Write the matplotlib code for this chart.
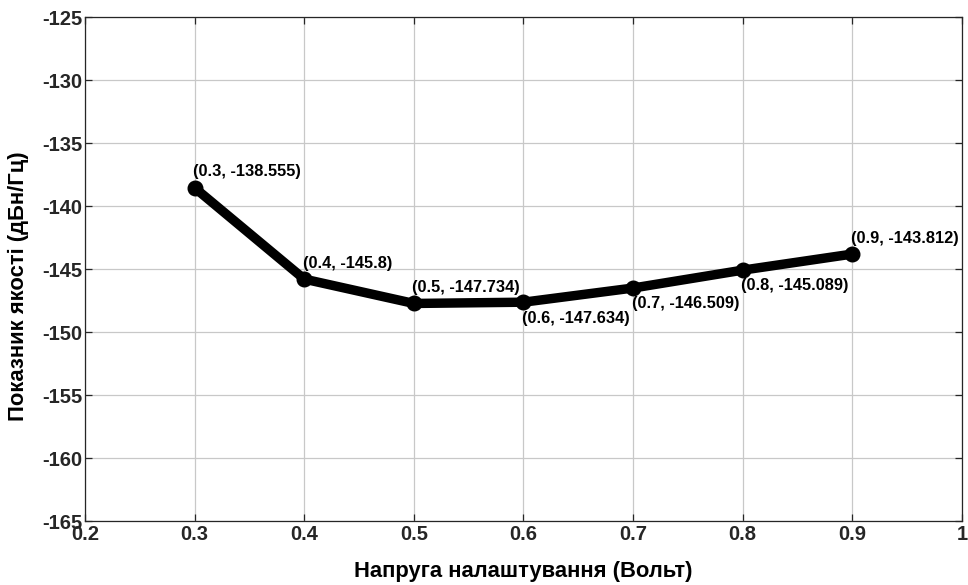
import matplotlib
matplotlib.use("Agg")
import matplotlib.pyplot as plt

plt.rcParams['font.family'] = ['Liberation Sans', 'DejaVu Sans']
plt.rcParams['axes.unicode_minus'] = False

voltage = [0.3, 0.4, 0.5, 0.6, 0.7, 0.8, 0.9]
noise = [-138.555, -145.8, -147.734, -147.634, -146.509, -145.089, -143.812]
label_below = [False, False, False, True, True, True, False]

x_ticks = [0.2, 0.3, 0.4, 0.5, 0.6, 0.7, 0.8, 0.9, 1.0]
x_tick_labels = ['0.2', '0.3', '0.4', '0.5', '0.6', '0.7', '0.8', '0.9', '1']
y_ticks = [-165, -160, -155, -150, -145, -140, -135, -130, -125]

fig = plt.figure(figsize=(9.68, 5.85), dpi=100)
ax = fig.add_axes([0.0878, 0.1094, 0.9060, 0.8615])

ax.plot(voltage, noise, color='black', linewidth=6.8, marker='o',
        markersize=10.5, solid_capstyle='round', zorder=3)

for xv, yv, below in zip(voltage, noise, label_below):
    txt = f"({xv:g}, {yv:g})"
    if below:
        ax.annotate(txt, (xv, yv), xytext=(-1, -6), textcoords='offset points',
                    ha='left', va='top', fontsize=11.8, fontweight='bold',
                    color='black', zorder=4)
    else:
        ax.annotate(txt, (xv, yv), xytext=(-1, 6), textcoords='offset points',
                    ha='left', va='bottom', fontsize=11.8, fontweight='bold',
                    color='black', zorder=4)

ax.set_xlim(0.2, 1.0)
ax.set_ylim(-165, -125)
ax.set_xticks(x_ticks)
ax.set_xticklabels(x_tick_labels)
ax.set_yticks(y_ticks)

ax.grid(True, color='#c8c8c8', linewidth=0.9)
ax.set_axisbelow(True)
ax.tick_params(direction='in', length=5, width=0.9, colors='#262626',
               labelsize=14.5, top=True, right=True)
ax.tick_params(axis='y', pad=2)
ax.tick_params(axis='x', pad=3)
for lbl in ax.get_xticklabels() + ax.get_yticklabels():
    lbl.set_fontweight('bold')
for sp in ax.spines.values():
    sp.set_color('#262626')
    sp.set_linewidth(0.9)

ax.set_xlabel('Напруга налаштування (Вольт)', fontsize=15.8, fontweight='bold',
              color='black', labelpad=12)
ylab = ax.set_ylabel('Показник якості (дБн/Гц)', fontsize=15.8,
                     fontweight='bold', color='black', va='center')
ax.yaxis.set_label_coords(-0.0753, 0.466)

fig.savefig('out.png', dpi=100)
